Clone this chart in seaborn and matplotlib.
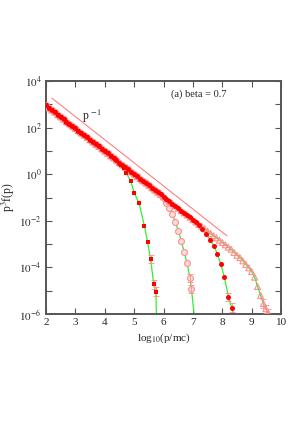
import numpy as np
import pandas as pd
import matplotlib
matplotlib.use("Agg")
import matplotlib.pyplot as plt
import seaborn as sns

# ---- data (log10 values) ----
main_x = [2.0, 2.1, 2.2, 2.3, 2.4, 2.5, 2.6, 2.7, 2.8, 2.9, 3.0, 3.1, 3.2, 3.3, 3.4,
          3.5, 3.6, 3.7, 3.8, 3.9, 4.0, 4.1, 4.2, 4.3, 4.4, 4.5, 4.6, 4.7, 4.8, 4.9,
          5.0, 5.1, 5.2, 5.3, 5.4, 5.5, 5.6, 5.7, 5.8, 5.9, 6.0, 6.1, 6.2, 6.3, 6.4,
          6.5, 6.6, 6.7, 6.8, 6.9, 7.0, 7.1, 7.2, 7.3, 7.4, 7.5, 7.6, 7.7, 7.8, 7.9,
          8.0, 8.1, 8.2, 8.3]
main_logy = [2.95, 2.85, 2.75, 2.66, 2.56, 2.46, 2.36, 2.26, 2.17, 2.07, 1.97, 1.87,
             1.77, 1.68, 1.58, 1.48, 1.38, 1.28, 1.19, 1.09, 0.99, 0.89, 0.79, 0.70,
             0.60, 0.50, 0.40, 0.30, 0.21, 0.11, 0.01, -0.09, -0.19, -0.28, -0.38,
             -0.48, -0.58, -0.68, -0.77, -0.87, -0.97, -1.07, -1.17, -1.26, -1.36,
             -1.46, -1.56, -1.66, -1.75, -1.85, -1.95, -2.05, -2.15, -2.24, -2.34,
             -2.44, -2.54, -2.64, -2.73, -2.83, -2.93, -3.03, -3.13, -3.22]

# cutoff tails of the four runs
s1_tail_x = [4.54, 4.66, 4.73, 4.88, 5.01, 5.17, 5.35, 5.46, 5.56, 5.67, 5.74]
s1_tail_logy = [0.39, 0.25, 0.06, -0.28, -0.82, -1.25, -2.22, -2.92, -3.65, -4.73, -5.04]
s1_n_main = 25
s1_end = 5.76

s2_tail_x = [5.9, 6.0, 6.1, 6.2, 6.3, 6.4, 6.5, 6.6, 6.7, 6.8, 6.9, 6.95]
s2_tail_logy = [-0.88, -1.02, -1.22, -1.45, -1.72, -2.05, -2.42, -2.85, -3.32, -3.82, -4.45, -4.92]
s2_n_main = 39
s2_end = 7.04

s3_tail_x = [7.2, 7.32, 7.46, 7.58, 7.72, 7.83, 7.95, 8.07, 8.21, 8.32]
s3_tail_logy = [-2.17, -2.37, -2.57, -2.82, -3.08, -3.42, -3.87, -4.42, -5.26, -5.73]
s3_n_main = 52
s3_end = 8.38

s4_tail_x = [8.4, 8.5, 8.6, 8.7, 8.8, 8.9, 9.0, 9.1, 9.2, 9.3, 9.4, 9.48, 9.57]
s4_tail_logy = [-3.36, -3.48, -3.58, -3.72, -3.87, -4.02, -4.18, -4.42, -4.82, -5.2, -5.55, -5.78, -5.97]
s4_n_main = 64
s4_end = 9.60

err_dex = 0.18

# reference slope line p^-1
ref_x = [2.2, 8.16]
ref_logy = [3.27, -2.65]

# ---- style ----
sns.set_style("ticks")
plt.rcParams['font.family'] = ['Liberation Serif', 'DejaVu Serif']
plt.rcParams['mathtext.fontset'] = 'stix'
plt.rcParams['font.size'] = 8

fig = plt.figure(figsize=(3.0, 4.28), dpi=100)
ax = fig.add_axes([0.153, 0.2664, 0.784, 0.5443])

green = '#33ee33'
red = '#ff0000'
salmon = '#ff8c8c'

def build(n_main, tx, ty):
    x = list(main_x[:n_main]) + list(tx)
    y = [10 ** v for v in (list(main_logy[:n_main]) + list(ty))]
    return pd.DataFrame({'x': x, 'y': y})

series = [
    (build(s1_n_main, s1_tail_x, s1_tail_logy), s1_end, dict(marker='s', color=red, s=12, linewidth=0, zorder=4), 3),
    (build(s2_n_main, s2_tail_x, s2_tail_logy), s2_end, dict(marker='o', facecolor='#ffdddd', edgecolor=salmon, s=18, linewidth=0.8, zorder=3), 2),
    (build(s3_n_main, s3_tail_x, s3_tail_logy), s3_end, dict(marker='o', color=red, s=13, linewidth=0, zorder=4), 2),
    (build(s4_n_main, s4_tail_x, s4_tail_logy), s4_end, dict(marker='^', facecolor='none', edgecolor=salmon, s=18, linewidth=0.8, zorder=3), 3),
]

for df, xend, kw, nerr in series:
    line = pd.concat([df, pd.DataFrame({'x': [xend], 'y': [1e-6]})], ignore_index=True)
    sns.lineplot(data=line, x='x', y='y', ax=ax, color=green, lw=0.9, sort=False,
                 estimator=None, zorder=2)
    sns.scatterplot(data=df, x='x', y='y', ax=ax, legend=False, **kw)
    tail = df.iloc[-nerr:]
    lo = tail['y'] - tail['y'] / 10 ** err_dex
    hi = tail['y'] * 10 ** err_dex - tail['y']
    ax.errorbar(tail['x'], tail['y'], yerr=[lo, hi], fmt='none', ecolor=salmon,
                elinewidth=0.6, capsize=2.5, capthick=0.6, zorder=3)

ref = pd.DataFrame({'x': ref_x, 'y': [10 ** v for v in ref_logy]})
sns.lineplot(data=ref, x='x', y='y', ax=ax, color='#ff7070', lw=0.7, zorder=2)

ax.set_yscale('log')
ax.set_xlim(2, 10)
ax.set_ylim(1e-6, 1e4)
ax.set_xticks(range(2, 11))
ax.set_xticklabels([str(i) for i in range(2, 11)])
ax.set_yticks([10.0 ** e for e in range(-6, 5, 2)])
ax.set_yticklabels([r'$10^{%d}$' % e for e in range(-6, 5, 2)])
ax.yaxis.set_minor_locator(matplotlib.ticker.FixedLocator([10.0 ** e for e in range(-5, 4, 2)]))
ax.yaxis.set_minor_formatter(matplotlib.ticker.NullFormatter())
ax.tick_params(which='both', direction='in', top=True, right=True, length=4,
               width=0.8, color='#555555', labelsize=8, pad=3)
for sp in ax.spines.values():
    sp.set_color('#555555')
    sp.set_linewidth(1.4)

ax.set_xlabel(r'log$_{10}$(p/mc)', fontsize=8, labelpad=3)
ax.set_ylabel(r'p$^3$f(p)', fontsize=8.5, labelpad=2)

ax.text(7.2, 10 ** 3.44, '(a) beta = 0.7', ha='center', va='center', fontsize=7.5)
ax.text(3.55, 10 ** 2.5, r'p $^{-1}$', ha='center', va='center', fontsize=8.5)

fig.savefig('out.png', dpi=100)
